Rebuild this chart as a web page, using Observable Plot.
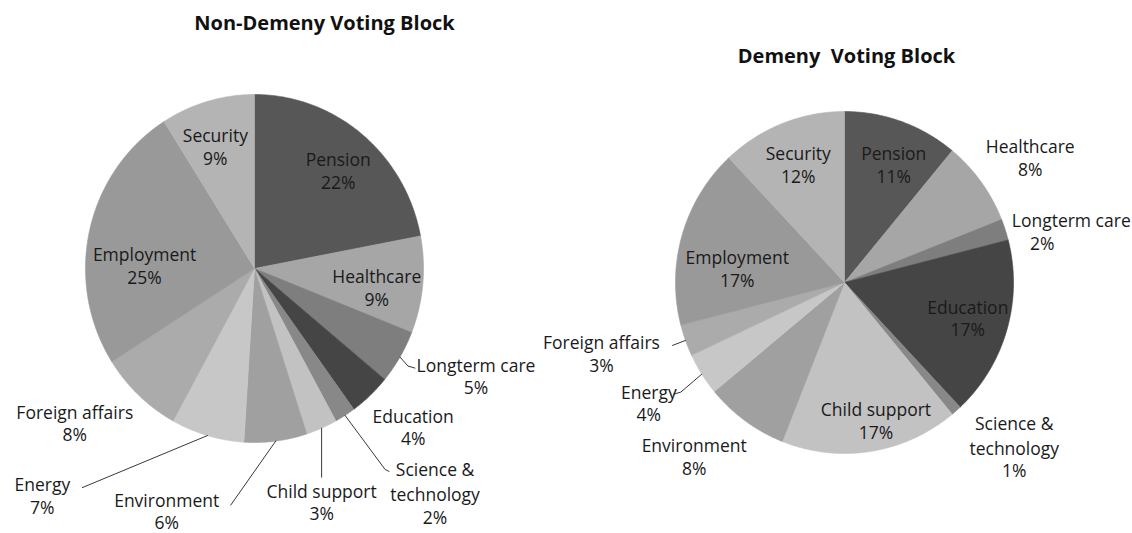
<!DOCTYPE html>
<html>
<head>
<meta charset="utf-8">
<script src="https://cdn.jsdelivr.net/npm/d3@7"></script>
<script src="https://cdn.jsdelivr.net/npm/@observablehq/plot@0.6"></script>
<style>
  html, body { margin: 0; padding: 0; background: #fff; }
  #chart svg text { white-space: pre; }
</style>
</head>
<body>
<div id="chart"></div>
<script>
// ---- data ----
const categories = ["Pension", "Healthcare", "Longterm care", "Education", "Science & technology",
  "Child support", "Environment", "Energy", "Foreign affairs", "Employment", "Security"];
const labelNames = ["Pension", "Healthcare", "Longterm care", "Education", "Science &\ntechnology",
  "Child support", "Environment", "Energy", "Foreign affairs", "Employment", "Security"];
const nonDemenyShares = [22, 9, 5, 4, 2, 3, 6, 7, 8, 25, 9];
const demenyShares = [11, 8, 2, 17, 1, 17, 8, 4, 3, 17, 12];
const titles = ["Non-Demeny Voting Block", "Demeny  Voting Block"];

// ---- styles ----
const sliceColors = ["#575757", "#a6a6a6", "#7e7e7e", "#454545", "#888888",
  "#c2c2c2", "#a0a0a0", "#c7c7c7", "#ababab", "#999999", "#b4b4b4"];
const FONT = "'Open Sans', sans-serif";
const LABEL_SIZE = 17.5;
const LINE = 25;

// ---- layout (centre, radii, label offsets from slice edge point) ----
const layout = [
  {cx: 254, cy: 268, rx: 169, ry: 174, titleX: 324, titleY: 23,
   offsets: [[-24, 36], [-46, 3], [76, 19], [43, 32], [90, 78], [0, 74], [-109, 70], [-165, 60], [-64, 28], [55, 35], [8, 45]],
   pctShift: {},
   leaders: {2: [[0, 0], [8, 9], [15, 11]], 4: [[0, 0], [40, 54], [44, 56]], 5: [[0, 0], [0, 49]],
             6: [[0, 0], [-45, 64]], 7: [[0, 0], [-125, 52]]}},
  {cx: 844, cy: 282, rx: 169, ry: 171, titleX: 846, titleY: 56,
   offsets: [[-8, 43], [49, -24], [66, 2], [-39, -12], [58, 36], [5, -31], [-51, 36], [-53, 29], [-84, 13], [55, 34], [16, 41]],
   pctShift: {2: -29},
   leaders: {7: [[0, 0], [-21, 18], [-28, 20]], 8: [[0, 0], [-13, 5]]}}
];

const series = [nonDemenyShares, demenyShares];

const sliceRows = [], nameRows = [], pctRows = [], leaderRows = [], titleRows = [];
series.forEach((values, p) => {
  const L = layout[p];
  const total = d3.sum(values);
  let cum = 0;
  titleRows.push({x: L.titleX, y: L.titleY, text: titles[p]});
  values.forEach((v, i) => {
    const a0 = cum / total * 2 * Math.PI;
    const a1 = (cum + v) / total * 2 * Math.PI;
    cum += v;
    const key = p + "-" + i;
    const color = sliceColors[i];
    sliceRows.push({key, x: L.cx, y: L.cy, color});
    const n = Math.max(2, Math.ceil((a1 - a0) / (Math.PI / 360)));
    for (let k = 0; k <= n; k++) {
      const a = a0 + (a1 - a0) * k / n;
      sliceRows.push({key, x: L.cx + L.rx * Math.sin(a), y: L.cy - L.ry * Math.cos(a), color});
    }
    sliceRows.push({key, x: L.cx, y: L.cy, color});
    // label placement relative to mid-angle edge point
    const am = (a0 + a1) / 2;
    const ex = L.cx + L.rx * Math.sin(am), ey = L.cy - L.ry * Math.cos(am);
    const [dx, dy] = L.offsets[i];
    const bx = ex + dx, by = ey + dy;
    const name = labelNames[i];
    const nLines = name.split("\n").length;
    const N = nLines + 1;
    const firstY = by - (N - 1) / 2 * LINE;
    nameRows.push({x: bx, y: firstY + (nLines - 1) / 2 * LINE, text: name});
    pctRows.push({x: bx + (L.pctShift[i] || 0), y: firstY + nLines * LINE, text: v + "%"});
    if (L.leaders[i]) {
      L.leaders[i].forEach(([lx, ly]) => leaderRows.push({key, x: ex + lx, y: ey + ly}));
    }
  });
});

const chart = Plot.plot({
  width: 1132,
  height: 533,
  margin: 0,
  x: {domain: [0, 1132], range: [0, 1132], axis: null},
  y: {domain: [0, 533], range: [0, 533], axis: null},
  color: {type: "identity"},
  style: {fontFamily: FONT, background: "#fff"},
  marks: [
    Plot.line(sliceRows, {x: "x", y: "y", z: "key", fill: "color", stroke: "color", strokeWidth: 0.6, curve: "linear"}),
    Plot.line(leaderRows, {x: "x", y: "y", z: "key", stroke: "#222", strokeWidth: 0.9, curve: "linear"}),
    Plot.text(nameRows, {x: "x", y: "y", text: "text", fontSize: LABEL_SIZE, lineHeight: LINE / LABEL_SIZE, fill: "#1a1a1a", fontFamily: FONT}),
    Plot.text(pctRows, {x: "x", y: "y", text: "text", fontSize: LABEL_SIZE, fill: "#1a1a1a", fontFamily: FONT}),
    Plot.text(titleRows, {x: "x", y: "y", text: "text", fontSize: 20, fontWeight: "bold", fill: "#111", fontFamily: FONT})
  ]
});
document.getElementById("chart").append(chart);
</script>
</body>
</html>
